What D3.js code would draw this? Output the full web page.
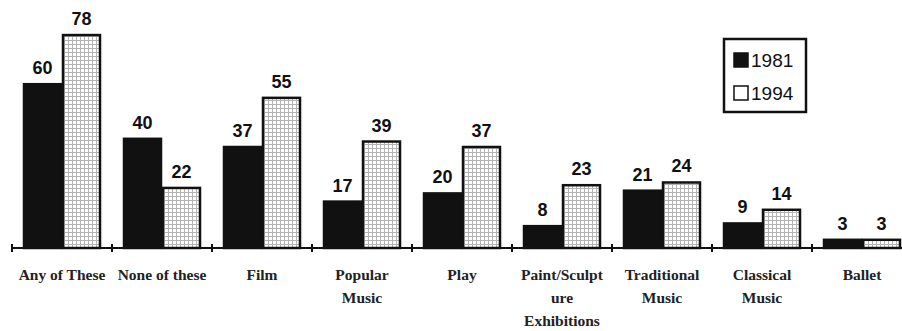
<!DOCTYPE html>
<html>
<head>
<meta charset="utf-8">
<script src="https://cdn.jsdelivr.net/npm/d3@7"></script>
<style>
  html, body { margin: 0; padding: 0; background: #fff; }
  svg { display: block; }
</style>
</head>
<body>
<svg id="chart" width="902" height="331"></svg>
<script>
// Participation in cultural activities (%), 1981 vs 1994
const categories = [
  ["Any of These"],
  ["None of these"],
  ["Film"],
  ["Popular", "Music"],
  ["Play"],
  ["Paint/Sculpt", "ure", "Exhibitions"],
  ["Traditional", "Music"],
  ["Classical", "Music"],
  ["Ballet"]
];
const years = ["1981", "1994"];
const values1981 = [60, 40, 37, 17, 20, 8, 21, 9, 3];
const values1994 = [78, 22, 55, 39, 37, 23, 24, 14, 3];

const svg = d3.select("#chart");
const axisY = 248;
const axisX0 = 12;
const step = 100;

const keys = categories.map((c, i) => i);
const x = d3.scaleBand().domain(keys).range([axisX0, axisX0 + step * keys.length]).padding(0);
const xSub = d3.scaleBand().domain(years).range([11, 89]).padding(0);
const y = d3.scaleLinear().domain([0, 100]).range([axisY, axisY - 273]);

// grid fill for the 1994 bars
const defs = svg.append("defs");
const pat = defs.append("pattern")
  .attr("id", "grid")
  .attr("patternUnits", "userSpaceOnUse")
  .attr("width", 4).attr("height", 4);
pat.append("rect").attr("width", 4).attr("height", 4).attr("fill", "#fff");
pat.append("path").attr("d", "M0,0.5H4M0.5,0V4")
  .attr("stroke", "#b4b4b4").attr("stroke-width", 1).attr("fill", "none");

const fills = { "1981": "#111", "1994": "url(#grid)" };
const rows = keys.map(i => ({ i, "1981": values1981[i], "1994": values1994[i] }));

const groups = svg.append("g").selectAll("g")
  .data(rows).join("g")
  .attr("transform", d => `translate(${x(d.i)},0)`);

groups.selectAll("rect")
  .data(d => years.map(k => ({ k, v: d[k] })))
  .join("rect")
  .attr("x", d => xSub(d.k) + 1)
  .attr("y", d => y(d.v))
  .attr("width", xSub.bandwidth() - 2)
  .attr("height", d => axisY - y(d.v))
  .attr("fill", d => fills[d.k])
  .attr("stroke", "#111")
  .attr("stroke-width", 2.5);

groups.selectAll("text.val")
  .data(d => years.map(k => ({ k, v: d[k] })))
  .join("text")
  .attr("class", "val")
  .attr("x", d => xSub(d.k) + xSub.bandwidth() / 2)
  .attr("y", d => y(d.v) - 10)
  .attr("text-anchor", "middle")
  .attr("font-family", "Liberation Sans, Arial, sans-serif")
  .attr("font-weight", "bold")
  .attr("font-size", 18)
  .attr("fill", "#111")
  .text(d => d.v);

// category axis with ticks on slot boundaries
const axis = svg.append("g");
axis.append("line")
  .attr("x1", axisX0).attr("x2", 902)
  .attr("y1", axisY).attr("y2", axisY)
  .attr("stroke", "#111").attr("stroke-width", 2);
axis.selectAll("line.tick")
  .data(keys).join("line")
  .attr("class", "tick")
  .attr("x1", d => x(d)).attr("x2", d => x(d))
  .attr("y1", axisY - 4).attr("y2", axisY + 4)
  .attr("stroke", "#111").attr("stroke-width", 2);

const labels = axis.selectAll("text.cat")
  .data(rows).join("text")
  .attr("class", "cat")
  .attr("text-anchor", "middle")
  .attr("font-family", "Liberation Serif, Times New Roman, serif")
  .attr("font-weight", "bold")
  .attr("font-size", 15.5)
  .attr("fill", "#222");
labels.selectAll("tspan")
  .data(d => categories[d.i].map(t => ({ t, cx: x(d.i) + x.bandwidth() / 2 })))
  .join("tspan")
  .attr("x", d => d.cx)
  .attr("y", (d, j) => 280 + j * 23)
  .text(d => d.t);

// legend
const lg = svg.append("g");
lg.append("rect")
  .attr("x", 724).attr("y", 39).attr("width", 82).attr("height", 73)
  .attr("fill", "#fff").attr("stroke", "#111").attr("stroke-width", 2.5);
const ent = lg.selectAll("g").data(years).join("g")
  .attr("transform", (d, i) => `translate(734,${60 + i * 33})`);
ent.append("rect")
  .attr("x", 0).attr("y", -7).attr("width", 14).attr("height", 14)
  .attr("fill", d => d === "1981" ? "#111" : "#fff")
  .attr("stroke", "#111").attr("stroke-width", 1.5);
ent.append("text")
  .attr("x", 17).attr("y", 7)
  .attr("font-family", "Liberation Sans, Arial, sans-serif")
  .attr("font-size", 19)
  .attr("fill", "#111")
  .text(d => d);
</script>
</body>
</html>
